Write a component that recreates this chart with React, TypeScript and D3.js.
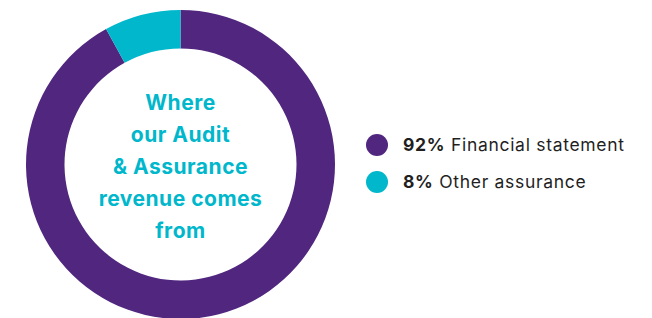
import React from 'react';
import * as d3 from 'd3';

const categories = ['Financial statement', 'Other assurance'];
const shares = [92, 8];
const colors = ['#50267f', '#00b7cb'];
const titleLines = ['Where', 'our Audit', '& Assurance', 'revenue comes', 'from'];

const W = 652, H = 318;
const cx = 180.5, cy = 164.5;
const outerR = 154.5, innerR = 116;

export default function App() {
  const pie = d3.pie<number>().sort(null).value(d => d);
  const arcs = pie(shares);
  const arc = d3.arc<d3.PieArcDatum<number>>().innerRadius(innerR).outerRadius(outerR);

  const lineY = d3.scaleLinear().domain([0, titleLines.length - 1]).range([110, 238]);
  const legendY = d3.scalePoint<string>().domain(categories).range([145, 182]);

  return (
    <svg width={W} height={H} style={{ position: 'absolute', left: 0, top: 0, background: '#fff' }}>
      <g transform={`translate(${cx},${cy})`}>
        {arcs.map((a, i) => (
          <path key={i} d={arc(a) || ''} fill={colors[i]} />
        ))}
      </g>
      {titleLines.map((t, i) => (
        <text key={t} x={cx} y={lineY(i)} textAnchor="middle" fill="#00b7cb"
          style={{ fontFamily: 'Inter', fontWeight: 700, fontSize: 21, letterSpacing: 0.5 }}>
          {t}
        </text>
      ))}
      {categories.map((c, i) => (
        <g key={c} transform={`translate(0,${legendY(c)})`}>
          <circle cx={377} cy={0} r={11} fill={colors[i]} />
          <text x={403} y={6} fill="#1f1f1f" style={{ fontFamily: 'Inter', fontSize: 17.5, letterSpacing: 0.7 }}>
            <tspan fontWeight={700}>{shares[i]}%</tspan> {c}
          </text>
        </g>
      ))}
    </svg>
  );
}
